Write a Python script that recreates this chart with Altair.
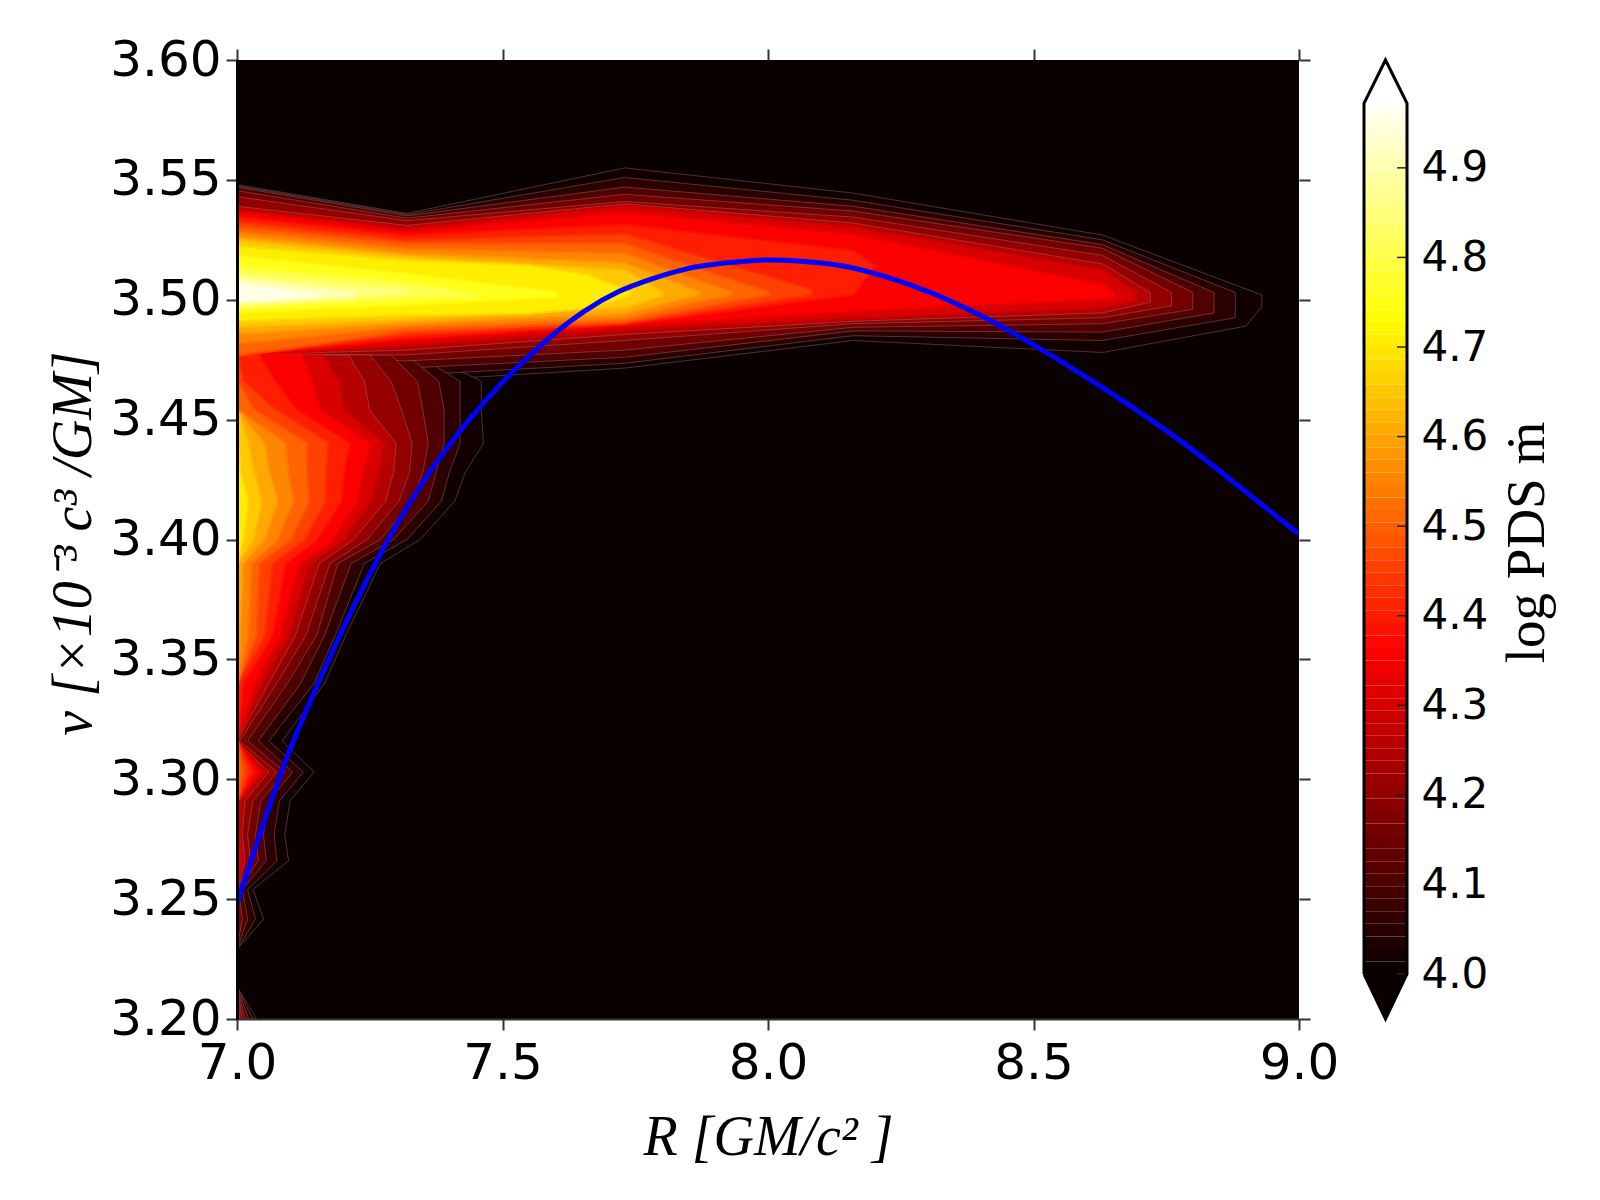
import altair as alt
import pandas as pd

# contour levels of log PDS
levels = [4.01, 4.05, 4.1, 4.15, 4.2, 4.25, 4.3, 4.35, 4.4, 4.45, 4.5, 4.55, 4.6, 4.65, 4.7, 4.75, 4.8, 4.85, 4.9, 4.95]

# horizontal band near nu = 3.5: R knots, upper and lower nu of each level
band_R = {
    4.01: [7.0, 7.32, 7.73, 8.16, 8.63, 8.90, 8.93],
    4.05: [7.0, 7.32, 7.73, 8.16, 8.63, 8.88],
    4.1: [7.0, 7.32, 7.73, 8.16, 8.63, 8.84],
    4.15: [7.0, 7.32, 7.73, 8.16, 8.63, 8.80],
    4.2: [7.0, 7.32, 7.73, 8.16, 8.63, 8.76],
    4.25: [7.0, 7.32, 7.73, 8.16, 8.63, 8.72],
    4.3: [7.0, 7.32, 7.73, 8.16, 8.63, 8.69],
    4.35: [7.0, 7.32, 7.73, 8.16, 8.63, 8.65],
    4.4: [7.0, 7.32, 7.73, 8.16, 8.2],
    4.45: [7.0, 7.32, 7.73, 8.08],
    4.5: [7.0, 7.32, 7.73, 8.0],
    4.55: [7.0, 7.32, 7.73, 7.93],
    4.6: [7.0, 7.32, 7.73, 7.87],
    4.65: [7.0, 7.32, 7.73, 7.8],
    4.7: [7.0, 7.32, 7.55, 7.66, 7.74],
    4.75: [7.0, 7.32, 7.6],
    4.8: [7.0, 7.32, 7.45],
    4.85: [7.0, 7.32],
    4.9: [7.0, 7.22],
    4.95: [7.0, 7.15],
}
band_top = {
    4.01: [3.548, 3.536, 3.555, 3.5445, 3.527, 3.5045, 3.502],
    4.05: [3.5475, 3.5355, 3.551, 3.5415, 3.525, 3.503],
    4.1: [3.547, 3.535, 3.547, 3.539, 3.523, 3.503],
    4.15: [3.5455, 3.534, 3.544, 3.537, 3.5215, 3.503],
    4.2: [3.543, 3.533, 3.541, 3.5345, 3.5185, 3.503],
    4.25: [3.539, 3.531, 3.54, 3.532, 3.515, 3.503],
    4.3: [3.5375, 3.5295, 3.539, 3.53, 3.512, 3.503],
    4.35: [3.536, 3.528, 3.536, 3.527, 3.506, 3.503],
    4.4: [3.534, 3.5265, 3.531, 3.52, 3.514],
    4.45: [3.532, 3.5245, 3.527, 3.504],
    4.5: [3.53, 3.523, 3.523, 3.503],
    4.55: [3.528, 3.521, 3.519, 3.503],
    4.6: [3.526, 3.519, 3.515, 3.503],
    4.65: [3.5245, 3.5175, 3.512, 3.503],
    4.7: [3.522, 3.516, 3.514, 3.51, 3.503],
    4.75: [3.518, 3.5105, 3.503],
    4.8: [3.513, 3.507, 3.502],
    4.85: [3.51, 3.504],
    4.9: [3.5085, 3.503],
    4.95: [3.5065, 3.502],
}
band_bottom = {
    4.01: [3.477, 3.466, 3.4715, 3.483, 3.478, 3.489, 3.497],
    4.05: [3.477, 3.4685, 3.4735, 3.485, 3.483, 3.4925],
    4.1: [3.477, 3.4715, 3.476, 3.487, 3.4865, 3.4945],
    4.15: [3.477, 3.4745, 3.479, 3.4885, 3.49, 3.496],
    4.2: [3.477, 3.477, 3.483, 3.49, 3.4925, 3.4975],
    4.25: [3.477, 3.479, 3.4855, 3.491, 3.4945, 3.499],
    4.3: [3.477, 3.481, 3.488, 3.4925, 3.497, 3.5],
    4.35: [3.477, 3.483, 3.4895, 3.4955, 3.5005, 3.501],
    4.4: [3.477, 3.4845, 3.49, 3.5024, 3.514],
    4.45: [3.477, 3.486, 3.4905, 3.5024],
    4.5: [3.477, 3.4875, 3.491, 3.5024],
    4.55: [3.482, 3.489, 3.4925, 3.5024],
    4.6: [3.486, 3.4905, 3.4945, 3.5024],
    4.65: [3.489, 3.492, 3.497, 3.502],
    4.7: [3.4915, 3.494, 3.4945, 3.497, 3.502],
    4.75: [3.495, 3.498, 3.5015],
    4.8: [3.4965, 3.5005, 3.5015],
    4.85: [3.4975, 3.503],
    4.9: [3.4985, 3.5015],
    4.95: [3.4995, 3.5015],
}

# lobe along the left edge: one row per nu, R reached by each level up to 4.7
lobe_levels = [4.01, 4.05, 4.1, 4.15, 4.2, 4.25, 4.3, 4.35, 4.4, 4.45, 4.5, 4.55, 4.6, 4.65, 4.7]
lobe_nu = [3.477, 3.466, 3.454, 3.44, 3.428, 3.416, 3.40, 3.39, 3.36, 3.34, 3.316,
           3.303, 3.291, 3.277, 3.266, 3.254, 3.2417, 3.229, 3.2135, 3.2]
lobe_R = [
    [7.36, 7.34, 7.32, 7.29, 7.25, 7.21, 7.16, 7.12, 7.04, 7.0, 7.0, 7.0, 7.0, 7.0, 7.0],
    [7.46, 7.42, 7.38, 7.34, 7.29, 7.24, 7.19, 7.14, 7.07, 7.01, 7.0, 7.0, 7.0, 7.0, 7.0],
    [7.46, 7.42, 7.39, 7.35, 7.31, 7.25, 7.20, 7.155, 7.11, 7.07, 7.03, 7.0, 7.0, 7.0, 7.0],
    [7.464, 7.42, 7.39, 7.36, 7.33, 7.30, 7.275, 7.25, 7.21, 7.17, 7.13, 7.09, 7.05, 7.02, 7.0],
    [7.43, 7.40, 7.375, 7.35, 7.325, 7.295, 7.265, 7.235, 7.20, 7.165, 7.13, 7.095, 7.06, 7.03, 7.005],
    [7.41, 7.385, 7.36, 7.33, 7.305, 7.28, 7.25, 7.225, 7.195, 7.165, 7.135, 7.105, 7.075, 7.045, 7.02],
    [7.345, 7.32, 7.295, 7.27, 7.245, 7.22, 7.20, 7.18, 7.15, 7.125, 7.10, 7.075, 7.05, 7.03, 7.01],
    [7.27, 7.24, 7.215, 7.19, 7.175, 7.155, 7.135, 7.115, 7.09, 7.065, 7.04, 7.025, 7.01, 7.0, 7.0],
    [7.205, 7.185, 7.165, 7.15, 7.13, 7.11, 7.095, 7.08, 7.065, 7.05, 7.035, 7.02, 7.005, 7.0, 7.0],
    [7.165, 7.145, 7.12, 7.095, 7.075, 7.06, 7.045, 7.03, 7.01, 7.0, 7.0, 7.0, 7.0, 7.0, 7.0],
    [7.085, 7.06, 7.04, 7.02, 7.005, 7.0, 7.0, 7.0, 7.0, 7.0, 7.0, 7.0, 7.0, 7.0, 7.0],
    [7.145, 7.125, 7.105, 7.09, 7.075, 7.06, 7.05, 7.04, 7.03, 7.02, 7.01, 7.002, 7.0, 7.0, 7.0],
    [7.10, 7.08, 7.06, 7.045, 7.03, 7.015, 7.005, 7.0, 7.0, 7.0, 7.0, 7.0, 7.0, 7.0, 7.0],
    [7.09, 7.07, 7.05, 7.035, 7.02, 7.01, 7.003, 7.0, 7.0, 7.0, 7.0, 7.0, 7.0, 7.0, 7.0],
    [7.097, 7.075, 7.055, 7.04, 7.025, 7.015, 7.008, 7.002, 7.0, 7.0, 7.0, 7.0, 7.0, 7.0, 7.0],
    [7.03, 7.02, 7.01, 7.003, 7.0, 7.0, 7.0, 7.0, 7.0, 7.0, 7.0, 7.0, 7.0, 7.0, 7.0],
    [7.05, 7.035, 7.02, 7.01, 7.002, 7.0, 7.0, 7.0, 7.0, 7.0, 7.0, 7.0, 7.0, 7.0, 7.0],
    [7.0, 7.0, 7.0, 7.0, 7.0, 7.0, 7.0, 7.0, 7.0, 7.0, 7.0, 7.0, 7.0, 7.0, 7.0],
    [7.0, 7.0, 7.0, 7.0, 7.0, 7.0, 7.0, 7.0, 7.0, 7.0, 7.0, 7.0, 7.0, 7.0, 7.0],
    [7.037, 7.03, 7.022, 7.015, 7.01, 7.005, 7.0, 7.0, 7.0, 7.0, 7.0, 7.0, 7.0, 7.0, 7.0],
]

# blue curve
curve_R = [7.0, 7.1, 7.138, 7.2, 7.28, 7.355, 7.405, 7.44, 7.499, 7.549, 7.593, 7.656, 7.718, 7.78, 7.845,
           7.938, 8.0, 8.114, 8.264, 8.40, 8.509, 8.572, 8.636, 8.717, 8.811, 8.899, 9.0]
curve_nu = [3.248, 3.3125, 3.3325, 3.363, 3.398, 3.4256, 3.441, 3.4507, 3.4654, 3.4763, 3.485, 3.4955, 3.5033, 3.5086, 3.5128,
            3.5157, 3.5166, 3.515, 3.5065, 3.4935, 3.48, 3.4715, 3.4625, 3.4505, 3.4355, 3.42, 3.4023]

x_ticks = [7.0, 7.5, 8.0, 8.5, 9.0]
y_ticks = [3.20, 3.25, 3.30, 3.35, 3.40, 3.45, 3.50, 3.55, 3.60]
cbar_ticks = [4.0, 4.1, 4.2, 4.3, 4.4, 4.5, 4.6, 4.7, 4.8, 4.9]
cbar_top = 4.972
cbar_step = 0.014

TICK_FONT = 'DejaVu Sans'
MATH_FONT = 'Liberation Serif'
DARK = '#0b0000'

x_scale = alt.Scale(domain=[7.0, 9.0], nice=False, zero=False)
y_scale = alt.Scale(domain=[3.2, 3.6], nice=False, zero=False)
hot = alt.Scale(domain=[4.0, 4.355, 4.725, cbar_top],
                range=[DARK, '#ff0000', '#ffff00', '#ffffff'], interpolate='rgb')


def edge_style(level):
    # faint grey hairlines on the dark levels, as the reference shows there
    if level <= 4.25:
        return {'stroke': '#a08080', 'strokeOpacity': 0.4, 'strokeWidth': 1, 'clip': True}
    # half-transparent edge in the level's own colour softens the steps between levels
    return {'strokeOpacity': 0.5, 'strokeWidth': 4, 'clip': True}


def lobe_segments(level):
    # rows where this level reaches past R = 7, split into runs with one zero-width row on each side
    i = lobe_levels.index(level)
    reach = [row[i] for row in lobe_R]
    rows = []
    seg = 0
    for k, value in enumerate(reach):
        near = value > 7.0 or (k > 0 and reach[k - 1] > 7.0) or (k + 1 < len(reach) and reach[k + 1] > 7.0)
        if near:
            rows.append({'nu': lobe_nu[k], 'R': value, 'R0': 7.0, 'level': level, 'seg': seg})
        else:
            seg += 1
        if value == 7.0 and k > 0 and reach[k - 1] > 7.0:
            seg += 1
            if k + 1 < len(reach) and reach[k + 1] > 7.0:
                rows.append({'nu': lobe_nu[k], 'R': value, 'R0': 7.0, 'level': level, 'seg': seg})
    return pd.DataFrame(rows)


layers = [
    alt.Chart(pd.DataFrame({'a': [7.0], 'b': [9.0], 'c': [3.2], 'd': [3.6]})).mark_rect(color=DARK).encode(
        x=alt.X('a:Q', scale=x_scale, axis=None), x2='b:Q',
        y=alt.Y('c:Q', scale=y_scale, axis=None), y2='d:Q')
]

# paint the levels low to high so that higher ones sit on top, as in a filled contour
for level in levels:
    band = pd.DataFrame({'R': band_R[level], 'top': band_top[level], 'bottom': band_bottom[level], 'level': level})
    enc = dict(color=alt.Color('level:Q', scale=hot, legend=None))
    if level > 4.25:
        enc['stroke'] = alt.Stroke('level:Q', scale=hot, legend=None)
    layers.append(
        alt.Chart(band).mark_area(orient='vertical', **edge_style(level)).encode(
            x=alt.X('R:Q', scale=x_scale, axis=None),
            y=alt.Y('top:Q', scale=y_scale, axis=None),
            y2='bottom:Q',
            **enc,
        )
    )
    if level in lobe_levels:
        layers.append(
            alt.Chart(lobe_segments(level)).mark_area(orient='horizontal', **edge_style(level)).encode(
                x=alt.X('R:Q', scale=x_scale, axis=None),
                x2='R0:Q',
                y=alt.Y('nu:Q', scale=y_scale, axis=None),
                detail='seg:N',
                **enc,
            )
        )

curve = alt.Chart(pd.DataFrame({'R': curve_R, 'nu': curve_nu})).mark_line(
    color='#0000ff', strokeWidth=5, interpolate='monotone', clip=True
).encode(
    x=alt.X('R:Q', scale=x_scale, axis=None),
    y=alt.Y('nu:Q', scale=y_scale, axis=None),
    order='R:Q',
)

frame = pd.DataFrame({'R': [7.0, 9.0], 'nu': [3.2, 3.6]})

axes_main = alt.Chart(frame).mark_point(opacity=0).encode(
    x=alt.X('R:Q', scale=x_scale, axis=alt.Axis(
        values=x_ticks, format='.1f', grid=False, orient='bottom', tickSize=11, tickWidth=2, tickColor='#333333',
        domainColor='#333333', domainWidth=2, labelFont=TICK_FONT, labelFontSize=50, labelColor='black',
        labelPadding=8, labelFlush=False, labelOverlap=False, zindex=1,
        title='R [GM/c² ]', titleFont=MATH_FONT, titleFontSize=56, titleFontStyle='italic', titleFontWeight='normal',
        titleColor='black', titleX=531, titleY=135, titleBaseline='alphabetic')),
    y=alt.Y('nu:Q', scale=y_scale, axis=alt.Axis(
        values=y_ticks, format='.2f', grid=False, orient='left', tickSize=11, tickWidth=2, tickColor='#333333',
        domainColor='black', domainWidth=3, labelFont=TICK_FONT, labelFontSize=50, labelColor='black',
        labelPadding=5, labelFlush=False, labelOverlap=False, zindex=1,
        title='ν [×10⁻³ c³ /GM]', titleFont=MATH_FONT, titleFontSize=56, titleFontStyle='italic', titleFontWeight='normal',
        titleColor='black', titleX=-164, titleY=483, titleBaseline='middle')),
)

axes_other = alt.Chart(frame).mark_point(opacity=0).encode(
    x=alt.X('R:Q', scale=x_scale, axis=alt.Axis(
        values=x_ticks, grid=False, orient='top', tickSize=11, tickWidth=2, tickColor='#333333',
        labels=False, domain=False, title=None)),
    y=alt.Y('nu:Q', scale=y_scale, axis=alt.Axis(
        values=y_ticks, grid=False, orient='right', tickSize=11, tickWidth=2, tickColor='#333333',
        labels=False, domain=False, title=None)),
)

main = alt.layer(*layers, curve, axes_main, axes_other).resolve_axis(
    x='independent', y='independent'
).properties(width=1062, height=959)

# colorbar
cbar_y = alt.Scale(domain=[3.9498, 5.0204], nice=False, zero=False)
cbar_x = alt.Scale(domain=[0, 1], nice=False, zero=False)
cbar_edges = [round(4.0 + i * cbar_step, 3) for i in range(70)]
cbar_df = pd.DataFrame({'lo': cbar_edges, 'hi': [round(v + cbar_step, 3) for v in cbar_edges], 'a': 0, 'b': 1})

strip = alt.Chart(cbar_df).mark_rect().encode(
    x=alt.X('a:Q', scale=cbar_x, axis=None), x2='b:Q',
    y=alt.Y('lo:Q', scale=cbar_y, axis=alt.Axis(
        values=cbar_ticks, format='.1f', orient='right', grid=False, ticks=False, domain=False,
        labelFont=TICK_FONT, labelFontSize=42, labelColor='black', labelPadding=14, labelOverlap=False,
        labelFlush=False, title='log PDS ṁ', titleFont=MATH_FONT, titleFontSize=55, titleFontWeight='normal',
        titleColor='black', titleAngle=270, titleX=119, titleY=482, titleBaseline='middle')),
    y2='hi:Q',
    color=alt.Color('lo:Q', scale=hot, legend=None),
)

cap_top = alt.Chart(pd.DataFrame({'x': [0, 0.5, 1], 'lo': [cbar_top] * 3, 'hi': [cbar_top, 5.0204, cbar_top]})).mark_area(
    color='#ffffff').encode(
    x=alt.X('x:Q', scale=cbar_x, axis=None),
    y=alt.Y('lo:Q', scale=cbar_y, axis=None), y2='hi:Q')

cap_bottom = alt.Chart(pd.DataFrame({'x': [0, 0.5, 1], 'lo': [4.0] * 3, 'hi': [4.0, 3.9498, 4.0]})).mark_area(
    color=DARK).encode(
    x=alt.X('x:Q', scale=cbar_x, axis=None),
    y=alt.Y('lo:Q', scale=cbar_y, axis=None), y2='hi:Q')

outline = alt.Chart(pd.DataFrame({
    'x': [0, 0, 0.5, 1, 1, 0.5, 0],
    'v': [4.0, cbar_top, 5.0204, cbar_top, 4.0, 3.9498, 4.0],
    'n': list(range(7)),
})).mark_line(color='black', strokeWidth=3, clip=False).encode(
    x=alt.X('x:Q', scale=cbar_x, axis=None),
    y=alt.Y('v:Q', scale=cbar_y, axis=None),
    order='n:Q',
)

cbar_marks = alt.Chart(pd.DataFrame({'v': cbar_ticks, 'a': 0.77, 'b': 1.0})).mark_rule(color='#222222', strokeWidth=1.5).encode(
    x=alt.X('a:Q', scale=cbar_x, axis=None), x2='b:Q',
    y=alt.Y('v:Q', scale=cbar_y, axis=None),
)

cbar = alt.layer(strip, cap_top, cap_bottom, cbar_marks, outline).resolve_axis(
    y='independent'
).properties(width=43, height=959)

chart = alt.hconcat(main, cbar, spacing=65, bounds='flush').configure_view(stroke=None).properties(
    padding={'left': 37, 'top': 27, 'right': 10, 'bottom': 10}
)

chart.save("out.html", embed_options={"renderer": "svg", "actions": False})
